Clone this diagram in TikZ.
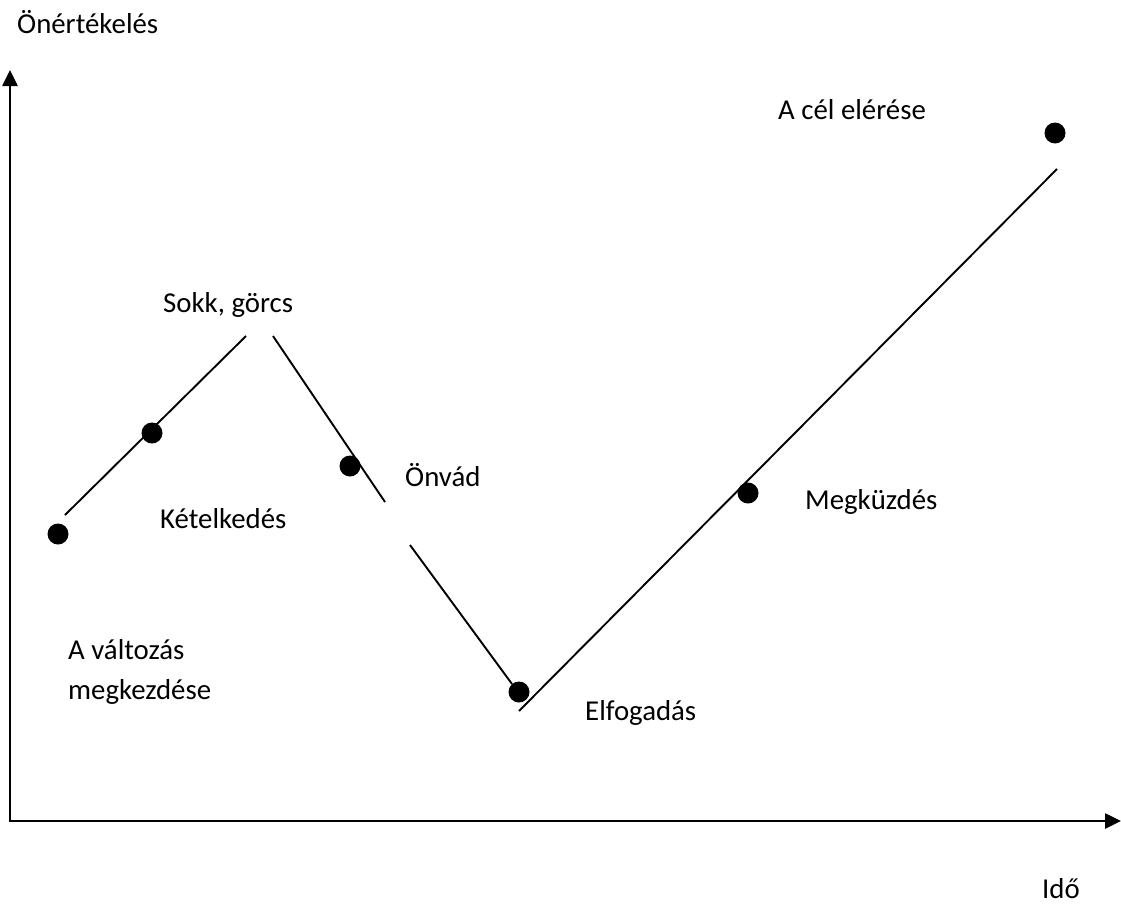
\documentclass[tikz,border=0pt]{standalone}
\usepackage{fontspec}
\setmainfont{Carlito}
\usetikzlibrary{arrows.meta}
\begin{document}
\begin{tikzpicture}[x=1pt,y=-1pt,
  axis/.style={line width=2.6pt,-{Triangle[length=16pt,width=15pt]}},
  seg/.style={line width=1.9pt},
  dot/.style={circle,fill=black,inner sep=0pt,minimum size=21pt},
  lbl/.style={anchor=base west,inner sep=0pt,font=\fontsize{28.8}{32}\selectfont}]
\useasboundingbox (0,0) rectangle (1121,910);
% axes
\coordinate (origin) at (10,821);
\coordinate (ytop) at (10,70);
\coordinate (xend) at (1121,821);
\coordinate (xstart) at (8.7,821);
\draw[axis] (origin) -- (ytop);
\draw[axis] (xstart) -- (xend);
% stage markers
\node[dot] (d1) at (58,534) {};
\node[dot] (d2) at (152,433) {};
\node[dot] (d3) at (350,466) {};
\node[dot] (d4) at (519,692) {};
\node[dot] (d5) at (748,493) {};
\node[dot] (d6) at (1055,133) {};
% path segments
\coordinate (s1a) at (65,515);
\coordinate (s1b) at (246,336);
\coordinate (s2a) at (273,336);
\coordinate (s2b) at (385,502);
\coordinate (s3a) at (410,545);
\coordinate (s3b) at (512,684);
\coordinate (s4a) at (519,711);
\coordinate (s4b) at (1057,169);
\draw[seg] (s1a) -- (s1b);
\draw[seg] (s2a) -- (s2b);
\draw[seg] (s3a) -- (s3b);
\draw[seg] (s4a) -- (s4b);
% labels
\node[lbl] (ylab) at (17,33) {Önértékelés};
\node[lbl] (xlab) at (1042,898) {Idő};
\node[lbl] (l1) at (778,119) {A cél elérése};
\node[lbl] (l2) at (163,312) {Sokk, görcs};
\node[lbl] (l3) at (405,486) {Önvád};
\node[lbl] (l4) at (160,528) {Kételkedés};
\node[lbl] (l5) at (805,509) {Megküzdés};
\node[lbl] (l6) at (68,659) {A változás};
\node[lbl] (l7) at (68,699) {megkezdése};
\node[lbl] (l8) at (585,720) {Elfogadás};
\end{tikzpicture}
\end{document}
